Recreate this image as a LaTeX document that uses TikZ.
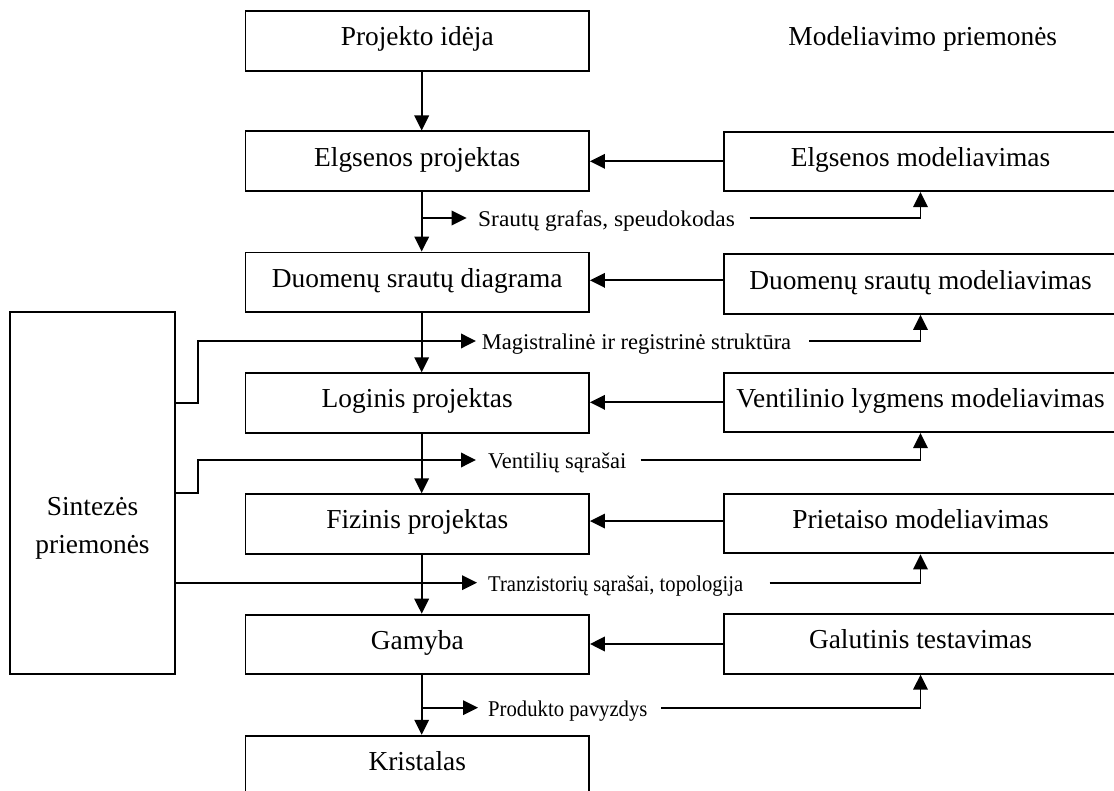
\documentclass[tikz,border=0pt]{standalone}
\usepackage{fontspec}
\setmainfont{Liberation Serif}
\usetikzlibrary{arrows.meta}
\tikzset{
  box/.style={draw, line width=1.9pt, rectangle, inner sep=0pt, minimum height=59.5pt,
    font=\fontsize{27.4}{32}\selectfont, text height=17pt, text depth=7.1pt},
  lbox/.style={box, minimum width=343.5pt},
  rbox/.style={box, minimum width=393pt},
  lbl/.style={inner sep=0pt, font=\fontsize{22.5}{27}\selectfont, anchor=base west},
  big/.style={inner sep=0pt, font=\fontsize{27.4}{32}\selectfont, anchor=base},
  conn/.style={line width=1.9pt},
  arr/.style={conn, -{Triangle[length=15pt,width=14.5pt]}}
}
\begin{document}
\begin{tikzpicture}[x=1pt,y=-1pt]
\useasboundingbox (0,0) rectangle (1114,791);
\clip (0,0) rectangle (1114,791);
\fill[white] (0,0) rectangle (1114,791);

% left column
\node[lbox] (P) at (417.25,40.85) {Projekto idėja};
\node[lbox] (E) at (417.25,161.2) {Elgsenos projektas};
\node[lbox] (D) at (417.25,282.3) {Duomenų srautų diagrama};
\node[lbox] (L) at (417.25,403) {Loginis projektas};
\node[lbox] (F) at (417.25,524) {Fizinis projektas};
\node[lbox] (G) at (417.25,644.4) {Gamyba};
\node[lbox] (K) at (417.25,765.45) {Kristalas};

% right column
\node[big] (title) at (922.8,45.7) {Modeliavimo priemonės};
\node[rbox] (rE) at (920.5,161.35) {Elgsenos modeliavimas};
\node[rbox] (rD) at (920.5,284.15) {Duomenų srautų modeliavimas};
\node[rbox] (rV) at (920.5,402.35) {Ventilinio lygmens modeliavimas};
\node[rbox] (rP) at (920.5,523.65) {Prietaiso modeliavimas};
\node[rbox] (rG) at (920.5,644) {Galutinis testavimas};

% synthesis box
\node[draw, line width=1.9pt, inner sep=0pt, minimum width=165pt, minimum height=361.7pt] (S) at (92.5,493.15) {};
\node[big] (S1) at (92.5,515) {Sintezės};
\node[big] (S2) at (92.5,553) {priemonės};

% vertical flow arrows
\draw[arr] ([xshift=4.45pt]P.south) -- ([xshift=4.45pt]E.north);
\draw[arr] ([xshift=4.45pt]E.south) -- ([xshift=4.45pt]D.north);
\draw[arr] ([xshift=4.45pt]D.south) -- ([xshift=4.45pt]L.north);
\draw[arr] ([xshift=4.45pt]L.south) -- ([xshift=4.45pt]F.north);
\draw[arr] ([xshift=4.45pt]F.south) -- ([xshift=4.45pt]G.north);
\draw[arr] ([xshift=4.45pt]G.south) -- ([xshift=4.45pt]K.north);

% horizontal arrows right -> left
\draw[arr] (rE.west) -- (rE.west -| E.east);
\draw[arr] ([yshift=3.8pt]rD.west) -- ([yshift=3.8pt]rD.west -| D.east);
\draw[arr] (rV.west) -- (rV.west -| L.east);
\draw[arr] ([yshift=2.6pt]rP.west) -- ([yshift=2.6pt]rP.west -| F.east);
\draw[arr] (rG.west) -- (rG.west -| G.east);

% labels
\node[lbl] (l1) at (478,226.5) {\scalebox{1.04}[1]{Srautų grafas, speudokodas}};
\node[lbl] (l2) at (481.7,349.3) {Magistralinė ir registrinė struktūra};
\node[lbl] (l3) at (488,468.3) {Ventilių sąrašai};
\node[lbl] (l4) at (488,591) {\scalebox{0.916}[1]{Tranzistorių sąrašai, topologija}};
\node[lbl] (l5) at (488,716) {\scalebox{0.92}[1]{Produkto pavyzdys}};

% branch coordinates
\coordinate (b1) at (421.7,218);
\coordinate (t1) at (466.7,218);
\coordinate (t2) at (476,341);
\coordinate (t3) at (476,460);
\coordinate (t4) at (477,582.7);
\coordinate (b5) at (421.7,707.7);
\coordinate (t5) at (478,707.7);

\coordinate (r1) at (749.6,218);
\coordinate (r2) at (809.3,341);
\coordinate (r3) at (640.7,460);
\coordinate (r4) at (769.5,582.7);
\coordinate (r5) at (661.2,707.7);

% label arrows (left part)
\draw[arr] (b1) -- (t1);
\draw[arr] ([yshift=90.45pt]S.east) -- ++(21.7,0) |- (t2);
\draw[arr] (S.east) -- ++(21.7,0) |- (t3);
\draw[arr] ([yshift=-89.55pt]S.east) -- (t4);
\draw[arr] (b5) -- (t5);

% label arrows (right part)
\draw[arr] (r1) -| (rE.south);
\draw[arr] (r2) -| (rD.south);
\draw[arr] (r3) -| (rV.south);
\draw[arr] (r4) -| (rP.south);
\draw[arr] (r5) -| (rG.south);
\end{tikzpicture}
\end{document}
